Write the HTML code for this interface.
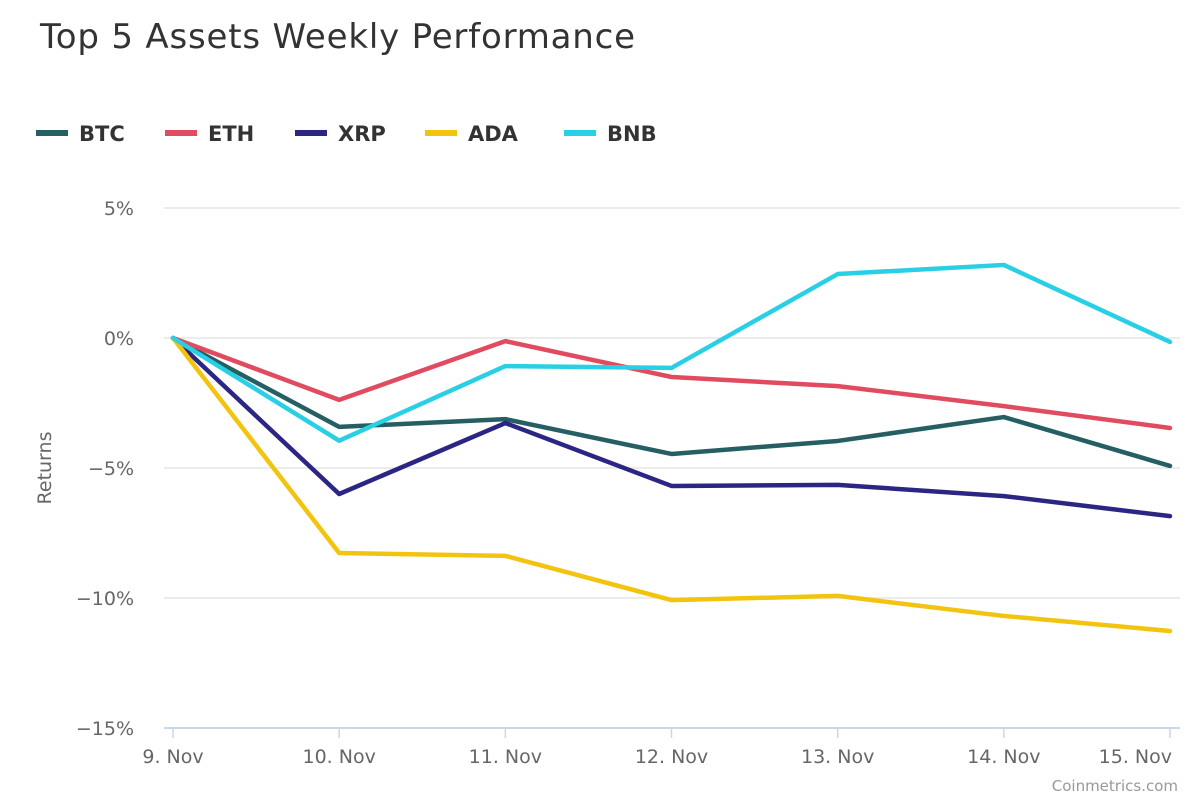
<!DOCTYPE html>
<html><head><meta charset="utf-8"><style>
body{margin:0;background:#fff;font-family:"Liberation Sans","DejaVu Sans",sans-serif}
svg text{font-family:"DejaVu Sans","Liberation Sans",sans-serif}
</style></head><body>
<svg id="c" width="1200" height="800">
<text x="40" y="48" font-size="34" letter-spacing="0.8" fill="#333">Top 5 Assets Weekly Performance</text>
<g id="legend"></g>
<g id="grid"></g>
<g id="series"></g>
<text transform="translate(51,468) rotate(-90)" text-anchor="middle" font-size="19" fill="#666">Returns</text>
<text x="1178" y="791" text-anchor="end" font-size="15" fill="#999">Coinmetrics.com</text>
</svg>
<script>
const categories=["9. Nov","10. Nov","11. Nov","12. Nov","13. Nov","14. Nov","15. Nov"];
const yTicks=[5,0,-5,-10,-15];
const names=["BTC","ETH","XRP","ADA","BNB"];
const colors=["#255e63","#e04b60","#2b2683","#f2c40f","#29cfe4"];
const btc=[0,-3.42,-3.12,-4.46,-3.96,-3.04,-4.92];
const eth=[0,-2.38,-0.12,-1.5,-1.85,-2.62,-3.46];
const xrp=[0,-6.0,-3.27,-5.69,-5.65,-6.08,-6.85];
const ada=[0,-8.27,-8.38,-10.08,-9.92,-10.69,-11.27];
const bnb=[0,-3.95,-1.08,-1.15,2.46,2.81,-0.15];
const seriesData=[btc,eth,xrp,ada,bnb];
const NS="http://www.w3.org/2000/svg";
const x=i=>173+i*(1170-173)/(categories.length-1);
const y=v=>338-v*26;
function mk(t,a,p){const e=document.createElementNS(NS,t);for(const k in a)e.setAttribute(k,a[k]);p.appendChild(e);return e;}
const grid=document.getElementById('grid');
yTicks.forEach(v=>{
 if(v>-15){const l=mk('line',{x1:164,x2:1180,y1:y(v),y2:y(v),stroke:'#e6e6e6','stroke-width':1.5},grid);
 
 }
 const t=mk('text',{x:134,y:y(v)+7,'text-anchor':'end','font-size':19,fill:'#666'},grid);
 t.textContent=(v<0?'\u2212'+(-v):v)+'%';
 
 
});
const ax=mk('line',{x1:164,x2:1180,y1:728,y2:728,stroke:'#ccd6eb','stroke-width':2},grid);


categories.forEach((c,i)=>{
 const tk=mk('line',{x1:x(i),x2:x(i),y1:728,y2:738,stroke:'#ccd6eb','stroke-width':1.5},grid);
 
 
 const last=i===categories.length-1;
 const t=mk('text',{x:last?1172:x(i),y:763,'text-anchor':last?'end':'middle','font-size':19,fill:'#666'},grid);
 t.textContent=c;
 
 
});
const ser=document.getElementById('series');
seriesData.forEach((d,s)=>{
 const p=mk('polyline',{points:d.map((v,i)=>x(i)+','+y(v)).join(' '),fill:'none',stroke:colors[s],'stroke-width':4.5,'stroke-linejoin':'round','stroke-linecap':'round'},ser);
 
 
});
const leg=document.getElementById('legend');
const lx=[36,165,295,425,564];
names.forEach((n,s)=>{
 const g=mk('g',{},leg);
 
 
 mk('rect',{x:lx[s],y:130,width:32,height:6,fill:colors[s]},g);
 const t=mk('text',{x:lx[s]+43,y:141,'font-size':21,'font-weight':'bold',fill:'#333'},g);
 t.textContent=n;
});
</script>
</body></html>
